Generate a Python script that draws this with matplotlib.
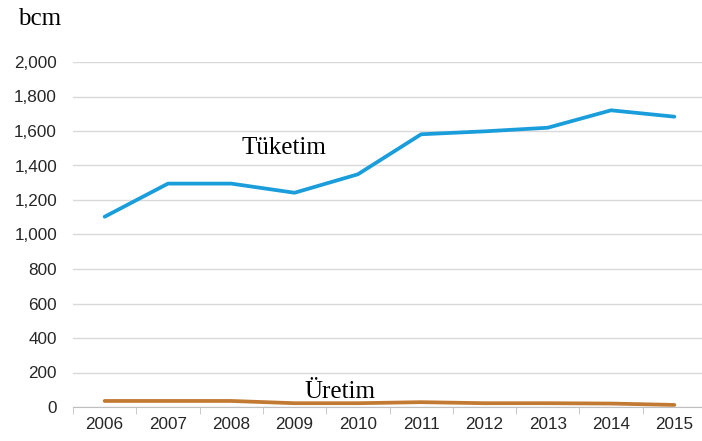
import numpy as np
import matplotlib.pyplot as plt
from matplotlib.ticker import FuncFormatter, FixedLocator

# Datos
years = ["2006", "2007", "2008", "2009", "2010", "2011", "2012", "2013", "2014", "2015"]
tuketim = [1103, 1295, 1295, 1242, 1349, 1581, 1598, 1619, 1720, 1683]
uretim = [35, 35, 35, 22, 22, 28, 22, 22, 20, 12]

x = np.arange(len(years))

fig = plt.figure(figsize=(7.02, 4.41), dpi=100)
ax = fig.add_axes([73/702, 34/441, 633/702, 345/441])

ax.plot(x, tuketim, color="#1a9ddb", lw=2.7, solid_capstyle="round")
ax.plot(x, uretim, color="#c27a33", lw=2.7, solid_capstyle="round")

ax.set_xlim(-0.5, len(years) - 0.5)
ax.set_ylim(0, 2000)
ax.set_yticks(np.arange(0, 2001, 200))
ax.yaxis.set_major_formatter(FuncFormatter(lambda v, p: f"{int(v):,}"))
ax.grid(axis="y", color="#d9d9d9", lw=1)
ax.set_axisbelow(True)

ax.set_xticks(x)
ax.set_xticklabels(years)
ax.xaxis.set_minor_locator(FixedLocator(np.arange(-0.5, len(years), 1)))
ax.tick_params(axis="x", which="major", length=0, pad=7)
ax.tick_params(axis="x", which="minor", length=5, color="#bfbfbf")
ax.tick_params(axis="y", length=0, pad=11.5)
for lbl in ax.get_xticklabels() + ax.get_yticklabels():
    lbl.set_fontfamily("Liberation Sans")
    lbl.set_fontsize(12.3)
    lbl.set_color("#262626")

for s in ["top", "right", "left"]:
    ax.spines[s].set_visible(False)
ax.spines["bottom"].set_color("#bfbfbf")

ax.text(2.84, 1465, "Tüketim", family="Liberation Serif", fontsize=18,
        ha="center", va="baseline")
ax.text(3.71, 52, "Üretim", family="Liberation Serif", fontsize=18,
        ha="center", va="baseline")
fig.text(18/702, 1 - 25/441, "bcm", family="Liberation Serif", fontsize=18,
         ha="left", va="baseline")

fig.savefig("out.png", dpi=100)
